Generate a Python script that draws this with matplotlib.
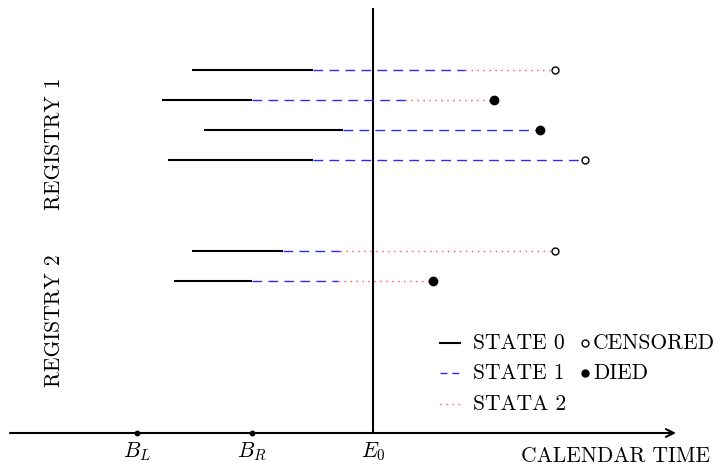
import matplotlib
matplotlib.use("Agg")
import matplotlib.pyplot as plt

plt.rcParams['mathtext.fontset'] = 'cm'
plt.rcParams['font.family'] = ['cmr10', 'DejaVu Serif']
plt.rcParams['axes.unicode_minus'] = False

# ---- data (calendar time units) ----
rows_y = [7.0, 10.0, 13.0, 16.0, 25.1, 28.1]
registry = [1, 1, 1, 1, 2, 2]
entry_time = [19.2, 16.2, 20.4, 16.8, 19.2, 17.4]
state1_time = [31.3, 25.2, 34.3, 31.3, 28.3, 25.2]
state2_time = [46.5, 40.5, None, None, 34.0, 33.8]
exit_time = [55.5, 49.4, 54.0, 58.5, 55.5, 43.3]
status = ['censored', 'died', 'died', 'censored', 'censored', 'died']

tick_pos = [13.7, 25.2, 37.3]
tick_labels = [r'$B_L$', r'$B_R$', r'$E_0$']
registry_labels = ['REGISTRY 1', 'REGISTRY 2']
registry_label_y = [14.4, 32.1]

FS = 15.5
c_blue = '#2a2aff'
c_red = '#ff5050'

fig = plt.figure(figsize=(7.16, 4.66), dpi=100)
ax = fig.add_axes([0, 0, 1, 1])
ax.set_xlim(0, 71.6)
ax.set_ylim(46.6, 0)
ax.axis('off')

axis_y = 43.3
# time axis with arrow
ax.annotate('', xy=(67.6, axis_y), xytext=(1.0, axis_y),
            arrowprops=dict(arrowstyle='->', lw=1.5, color='black',
                            mutation_scale=14, shrinkA=0, shrinkB=0))
# E0 vertical line
ax.plot([tick_pos[2], tick_pos[2]], [0.8, axis_y], color='black', lw=1.5,
        solid_capstyle='butt')
ax.plot(tick_pos[:2], [axis_y, axis_y], 'o', color='black', ms=3.2)
for p, l in zip(tick_pos, tick_labels):
    ax.text(p, axis_y + 0.7, l, ha='center', va='top', fontsize=FS)
ax.text(71.0, 46.2, 'CALENDAR TIME', ha='right', va='baseline', fontsize=FS)

for lab, y in zip(registry_labels, registry_label_y):
    ax.text(5.4, y, lab, rotation=90, ha='center', va='center', fontsize=FS)

for y, e, s1, s2, x, st in zip(rows_y, entry_time, state1_time, state2_time,
                                exit_time, status):
    ax.plot([e, s1], [y, y], color='black', lw=1.5, solid_capstyle='butt')
    end1 = s2 if s2 is not None else x
    ax.plot([s1, end1], [y, y], color=c_blue, lw=1.0, dashes=(7, 4.5))
    if s2 is not None:
        ax.plot([s2, x], [y, y], color=c_red, lw=1.0, dashes=(1, 3.3))
    if st == 'censored':
        ax.plot([x], [y], 'o', mfc='white', mec='black', mew=1.0, ms=5.0)
    else:
        ax.plot([x], [y], 'o', color='black', ms=6.0)

# legend (manual, mimicking TikZ)
leg_y = [34.3, 37.3, 40.4]
leg_x0, leg_x1 = 44.0, 46.0
ax.plot([leg_x0, leg_x1], [leg_y[0]] * 2, color='black', lw=1.5)
ax.plot([leg_x0, leg_x1], [leg_y[1]] * 2, color=c_blue, lw=1.0, dashes=(5, 3.5))
ax.plot([leg_x0, leg_x1], [leg_y[2]] * 2, color=c_red, lw=1.0, dashes=(1, 3.3))
for yy, t in zip(leg_y, ['STATE 0', 'STATE 1', 'STATA 2']):
    ax.text(47.3, yy, t, ha='left', va='center', fontsize=FS)
ax.plot([58.5], [leg_y[0]], 'o', mfc='white', mec='black', mew=1.0, ms=5.0)
ax.plot([58.5], [leg_y[1]], 'o', color='black', ms=5.0)
ax.text(59.3, leg_y[0], 'CENSORED', ha='left', va='center', fontsize=FS)
ax.text(59.3, leg_y[1], 'DIED', ha='left', va='center', fontsize=FS)

fig.savefig('out.png', dpi=100)
